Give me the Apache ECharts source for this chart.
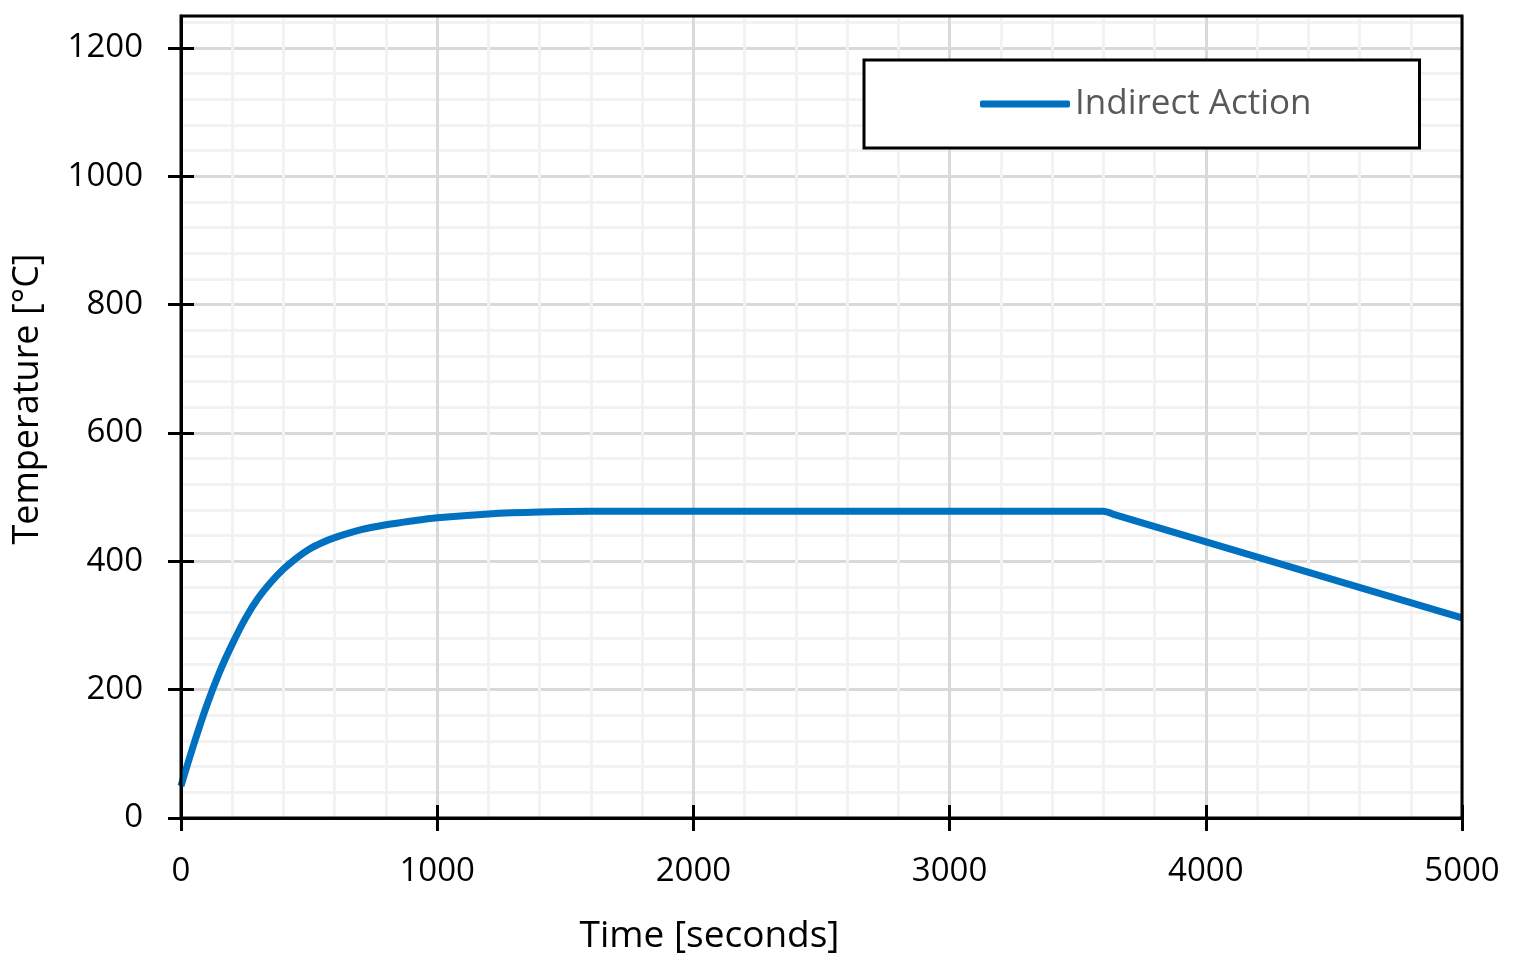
<!DOCTYPE html>
<html>
<head>
<meta charset="utf-8">
<title>Indirect Action</title>
<script src="https://cdn.jsdelivr.net/npm/echarts@6/dist/echarts.min.js"></script>
<style>
  html, body { margin: 0; padding: 0; background: #fff; }
  #chart { width: 1516px; height: 975px; }
</style>
</head>
<body>
<div id="chart"></div>
<script>
// 时间 [s] 和温度 [°C]，从曲线上读出来的点
const timeSec = [0, 50, 100, 150, 200, 250, 300, 350, 400, 450, 500, 550, 600, 700, 800, 900, 1000, 1200, 1400, 1600, 2000, 3550, 3600, 3650, 5000]
const tempC = [50, 115, 175, 227, 271, 310, 342, 367, 388, 405, 419, 429, 437, 449, 457, 463, 468, 474, 477, 478, 478, 478, 478, 472, 312]
// 刻度
const xTicks = [0, 1000, 2000, 3000, 4000, 5000]
const yTicks = [0, 200, 400, 600, 800, 1000, 1200]
const seriesName = 'Indirect Action'

const black = '#000'
const blue = '#0070C0'
const axisLineStyle = { color: black, width: 3 }
const font = 'Open Sans'
// 不要千分位逗号
const plain = v => String(v)

const myChart = echarts.init(document.getElementById('chart'))

const option = {
  animation: false,
  textStyle: { fontFamily: font },
  grid: {
    left: 181,
    right: 54,
    top: 16,
    bottom: 157,
    show: true,
    borderColor: black,
    borderWidth: 3,
    z: 3
  },
  legend: {
    left: 864,
    top: 60,
    padding: [26, 108, 26, 116],
    borderColor: black,
    borderWidth: 3,
    backgroundColor: '#fff',
    itemWidth: 90,
    itemHeight: 7,
    textStyle: { color: '#595959', fontSize: 35, lineHeight: 36, fontFamily: font },
    data: [{ name: seriesName, icon: 'roundRect', itemStyle: { color: blue } }]
  },
  xAxis: [
    {
      type: 'value',
      min: 0,
      max: 5000,
      interval: 1000,
      position: 'bottom',
      name: 'Time [seconds]',
      nameLocation: 'middle',
      nameGap: 100,
      nameTextStyle: { color: black, fontSize: 37, fontFamily: font, padding: [0, 224, 0, 0] },
      axisLine: { onZero: false, lineStyle: axisLineStyle },
      axisTick: { inside: true, length: 13, lineStyle: axisLineStyle },
      axisLabel: { color: black, fontSize: 33, margin: 37, fontFamily: font, formatter: plain },
      splitLine: { lineStyle: { color: '#d9d9d9', width: 3 } },
      minorTick: { show: false, splitNumber: 5 },
      minorSplitLine: { show: true, lineStyle: { color: '#f2f2f2', width: 3 } },
      z: 1
    },
    {
      // 十字刻度的外侧一半
      type: 'value',
      min: 0,
      max: 5000,
      interval: 1000,
      position: 'bottom',
      axisLine: { show: false, onZero: false },
      axisTick: { length: 13, lineStyle: axisLineStyle },
      axisLabel: { show: false },
      splitLine: { show: false },
      z: 1
    }
  ],
  yAxis: [
    {
      type: 'value',
      min: 0,
      max: 1250,
      interval: 200,
      position: 'left',
      name: 'Temperature [°C]',
      nameLocation: 'middle',
      nameGap: 135,
      nameTextStyle: { color: black, fontSize: 36, fontFamily: font, padding: [0, 0, 0, 36] },
      axisLine: { show: true, onZero: false, lineStyle: axisLineStyle },
      axisTick: { show: true, inside: true, length: 13, customValues: yTicks, lineStyle: axisLineStyle },
      axisLabel: { customValues: yTicks, color: black, fontSize: 33, margin: 38, fontFamily: font, formatter: plain },
      splitLine: { lineStyle: { color: '#d9d9d9', width: 3 } },
      z: 1
    },
    {
      // 次网格线 每 40 一条
      type: 'value',
      min: 0,
      max: 1250,
      interval: 40,
      position: 'left',
      axisLine: { show: false },
      axisTick: { show: false },
      axisLabel: { show: false },
      splitLine: { lineStyle: { color: '#f2f2f2', width: 3 } },
      z: 0
    },
    {
      type: 'value',
      min: 0,
      max: 1250,
      interval: 200,
      position: 'left',
      axisLine: { show: false, onZero: false },
      axisTick: { show: true, length: 13, customValues: yTicks, lineStyle: axisLineStyle },
      axisLabel: { show: false },
      splitLine: { show: false },
      z: 1
    }
  ],
  series: [
    {
      name: seriesName,
      type: 'line',
      xAxisIndex: 0,
      yAxisIndex: 0,
      data: timeSec.map((t, i) => [t, tempC[i]]),
      showSymbol: false,
      symbol: 'none',
      smooth: 0.3,
      lineStyle: { color: blue, width: 7 },
      itemStyle: { color: blue },
      z: 2
    }
  ]
}

myChart.setOption(option)
</script>
</body>
</html>
